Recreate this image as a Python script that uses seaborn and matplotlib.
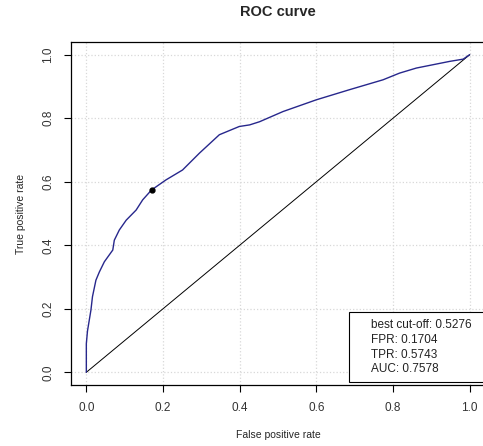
"""
ROC curve with best cut-off point, redrawn with seaborn.
"""

import matplotlib
matplotlib.use("Agg")
import matplotlib.pyplot as plt
from matplotlib.patches import Rectangle
import pandas as pd
import seaborn as sns

# ROC points
fpr = [0.0, 0.0, 0.003, 0.012, 0.016, 0.025, 0.034, 0.047, 0.069, 0.073,
       0.086, 0.104, 0.130, 0.147, 0.170, 0.208, 0.251, 0.295, 0.347, 0.399,
       0.426, 0.452, 0.513, 0.600, 0.687, 0.774, 0.817, 0.861, 0.948, 0.983, 1.0]
tpr = [0.0, 0.09, 0.13, 0.196, 0.238, 0.29, 0.316, 0.348, 0.385, 0.416,
       0.448, 0.479, 0.511, 0.543, 0.574, 0.606, 0.637, 0.69, 0.748, 0.774,
       0.779, 0.789, 0.821, 0.858, 0.89, 0.921, 0.942, 0.958, 0.979, 0.986, 1.0]

best_fpr = 0.1704
best_tpr = 0.5743
info_lines = ["best cut-off: 0.5276", "FPR: 0.1704", "TPR: 0.5743", "AUC: 0.7578"]
ticks = [0.0, 0.2, 0.4, 0.6, 0.8, 1.0]

roc_df = pd.DataFrame({"fpr": fpr, "tpr": tpr})

sns.set_style("white")
plt.rcParams["font.family"] = ["Liberation Sans", "DejaVu Sans"]

fig = plt.figure(figsize=(4.83, 4.46), dpi=100)
ax = fig.add_axes([71 / 483, 1 - 385 / 446, 414 / 483, 343 / 446])

# Dotted grid at tick positions
for t in ticks:
    ax.axvline(t, color="#d8d8d8", linestyle=":", linewidth=0.9, zorder=0)
    ax.axhline(t, color="#d8d8d8", linestyle=":", linewidth=0.9, zorder=0)

# Chance line
ax.plot([0, 1], [0, 1], color="black", linewidth=0.7)

# ROC curve
sns.lineplot(data=roc_df, x="fpr", y="tpr", sort=False, estimator=None,
             color="#27278c", linewidth=1.0, ax=ax)
ax.plot(best_fpr, best_tpr, "o", color="black", markersize=3.5)

# Info box
ax.add_patch(Rectangle((0.684, -0.032), 0.5, 0.222, facecolor="white",
                       edgecolor="black", linewidth=0.8, zorder=3))
for i, line in enumerate(info_lines):
    ax.text(0.742, 0.148 - i * 0.046, line, fontsize=8.5, color="#222222",
            va="center", ha="left", zorder=4)

ax.set_xlim(-0.04, 1.04)
ax.set_ylim(-0.04, 1.04)
ax.set_xticks(ticks)
ax.set_yticks(ticks)
ax.set_xticklabels([f"{t:.1f}" for t in ticks], fontsize=8.5)
ax.set_yticklabels([f"{t:.1f}" for t in ticks], fontsize=8.5, rotation=90, va="center")
ax.tick_params(axis="both", direction="out", length=5, width=0.8, color="black",
               labelcolor="#333333", pad=7)
ax.tick_params(axis="both", which="both", bottom=True, left=True)
for s in ax.spines.values():
    s.set_color("black")
    s.set_linewidth(0.9)

ax.set_xlabel("False positive rate", fontsize=7.5, labelpad=12)
ax.set_ylabel("True positive rate", fontsize=7.5, labelpad=12)
ax.set_title("ROC curve", fontsize=10.5, fontweight="bold", pad=19)

plt.savefig("out.png", dpi=100)
